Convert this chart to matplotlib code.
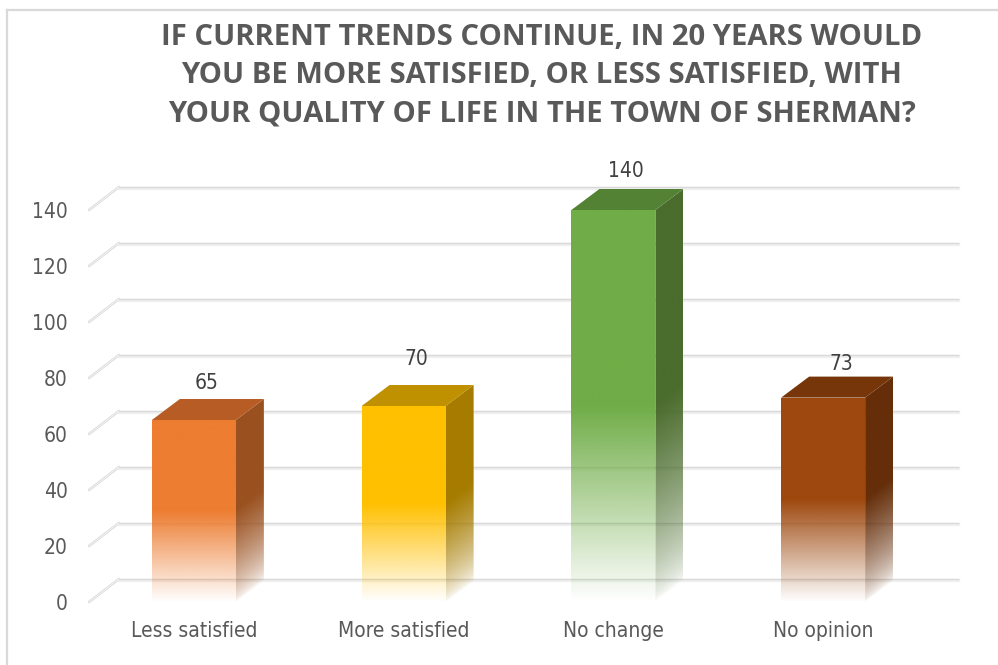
#!/usr/bin/env python3
# 3D look column chart with fading bars
import numpy as np
import matplotlib
matplotlib.use('Agg')
import matplotlib.pyplot as plt
from matplotlib.colors import to_rgb
from matplotlib.lines import Line2D
from matplotlib.patches import Polygon

#------------------------------------------------------------------------------
# DATA
categories = ['Less satisfied', 'More satisfied', 'No change', 'No opinion']
values = [65, 70, 140, 73]
yticks = [0, 20, 40, 60, 80, 100, 120, 140]

front_colors = ['#ED7D31', '#FFC000', '#70AD47', '#9E480E']
top_colors = ['#B85C26', '#BF9000', '#548235', '#763609']
side_colors = ['#9A5120', '#A67C00', '#4A6C2C', '#652E09']

title = ('IF CURRENT TRENDS CONTINUE, IN 20 YEARS WOULD\n'
         'YOU BE MORE SATISFIED, OR LESS SATISFIED, WITH\n'
         'YOUR QUALITY OF LIFE IN THE TOWN OF SHERMAN?')

#------------------------------------------------------------------------------
# PLOT THE GRAPH
W, H = 998, 665
narrow = dict(family='DejaVu Sans', stretch='condensed')
text_col = '#595959'

fig = plt.figure(figsize=(W / 100, H / 100), dpi=100, facecolor='white')
ax = fig.add_axes([89 / W, 1 - 602 / H, 839 / W, 392 / H])
for s in ax.spines.values():
    s.set_visible(False)
ax.patch.set_visible(False)

# chart frame
fig.add_artist(Line2D([7 / W, 7 / W], [0, 1 - 10 / H], color='#d9d9d9', lw=1.6))
fig.add_artist(Line2D([7 / W, 1], [1 - 10 / H, 1 - 10 / H], color='#d9d9d9', lw=1.6))

# gridlines, front edge goes up and back to the wall
wall_dx, wall_dy = 30 / 209.75, 23 / 2.8
for v in yticks:
    ax.plot([-0.5, -0.5 + wall_dx], [v, v + wall_dy], c='#d9d9d9', lw=1.8,
            clip_on=False, zorder=1, solid_capstyle='round')
    ax.plot([-0.5, -0.5 + wall_dx], [v, v + wall_dy], c='#f7f7f7', lw=0.6,
            clip_on=False, zorder=1.1)
    ax.plot([-0.5 + wall_dx, 3.5 + wall_dx], [v + wall_dy - 0.5, v + wall_dy - 0.5],
            c='#f0f0f0', lw=2.4, clip_on=False, zorder=1)
    ax.plot([-0.5 + wall_dx, 3.5 + wall_dx], [v + wall_dy, v + wall_dy],
            c='#d9d9d9', lw=1.0, clip_on=False, zorder=1.1)

# bars
bar_w = 84 / 209.75
dx, dy = 28 / 209.75, 21 / 2.8
label_dx = [13, 13, 13, 18]     # px
label_dy = [16, 26, 18, 13]     # px above the back top edge


def face(colour, corners, x0, x1, y0, y1, v, shear, power):
    # solid over the upper half, fade to nothing at the foot
    yy = np.linspace(y1, y0, 400)
    xx = np.linspace(x0, x1, 60)
    gx, gy = np.meshgrid(xx, yy)
    rgba = np.ones(gx.shape + (4,))
    rgba[:, :, :3] = to_rgb(colour)
    rgba[:, :, 3] = np.clip((gy - shear * (gx - x0)) / (v / 2), 0, 1) ** power
    im = ax.imshow(rgba, extent=(x0, x1, y0, y1), aspect='auto', zorder=3,
                   interpolation='bilinear')
    im.set_clip_path(Polygon(corners, closed=True, transform=ax.transData))
    im.set_clip_box(fig.bbox)


for i, v in enumerate(values):
    x0, x1 = i - bar_w / 2, i + bar_w / 2

    # front face
    face(front_colors[i], [(x0, 0), (x1, 0), (x1, v), (x0, v)], x0, x1, 0, v, v, 0, 1)

    # side face, same fade but sheared with the depth and holding its colour longer
    face(side_colors[i], [(x1, 0), (x1 + dx, dy), (x1 + dx, v + dy), (x1, v)],
         x1, x1 + dx, 0, v + dy, v, dy / dx, 0.65)

    # top face
    ax.add_patch(Polygon([(x0, v), (x1, v), (x1 + dx, v + dy), (x0 + dx, v + dy)],
                         closed=True, fc=top_colors[i], ec='none', zorder=3,
                         clip_on=False))

    ax.annotate(str(v), xy=(i, v + dy), xytext=(label_dx[i] * 0.72, label_dy[i] * 0.72),
                textcoords='offset points', ha='center', va='center',
                fontsize=15, color='#404040', annotation_clip=False, **narrow)

# axes
ax.set_xlim(-0.5, 3.5)
ax.set_ylim(0, 140)
ax.set_xticks(range(len(categories)))
ax.set_xticklabels(categories, fontsize=15, color=text_col, **narrow)
ax.set_yticks(yticks)
ax.set_yticklabels([str(t) for t in yticks], fontsize=15, color=text_col, **narrow)
ax.tick_params(axis='x', length=0, pad=14)
ax.tick_params(axis='y', length=0, pad=15.5)

fig.text(541.5 / W, 1 - 75.5 / H, title, ha='center', va='center', fontsize=21.1,
         fontweight='bold', color=text_col, family='Open Sans', linespacing=1.41,
         multialignment='center')

fig.savefig('out.png', dpi=100)
